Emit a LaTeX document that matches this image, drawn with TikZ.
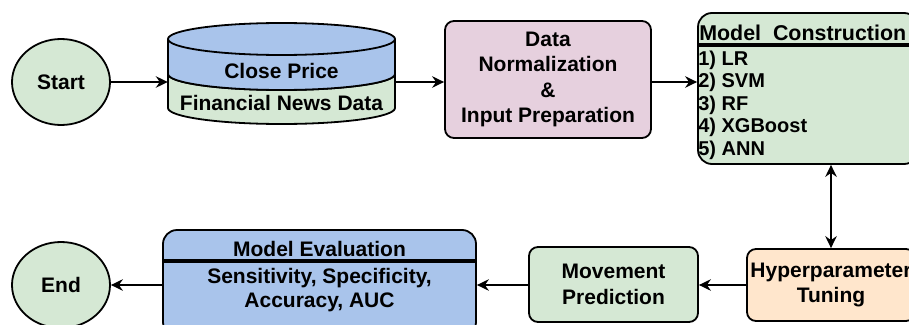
\documentclass[tikz,border=0pt]{standalone}
\usepackage{fontspec}
\setmainfont{Liberation Sans}
\usetikzlibrary{shapes.geometric,arrows.meta}
\definecolor{fillgreen}{HTML}{D5E8D4}
\definecolor{fillblue}{HTML}{A9C4EB}
\definecolor{fillpink}{HTML}{E6D0DE}
\definecolor{fillorange}{HTML}{FFE6CC}
\tikzset{
  outline/.style={draw=black, line width=1.8pt},
  bigfont/.style={font=\bfseries\fontsize{21}{25.5}\selectfont},
  listfont/.style={font=\bfseries\fontsize{20}{24}\selectfont},
  proc/.style={outline, bigfont, rounded corners=9pt, align=center, inner sep=0pt},
  panel/.style={outline, rounded corners=14pt, inner sep=0pt},
  term/.style={outline, bigfont, ellipse, inner sep=0pt, fill=fillgreen,
    minimum width=98pt, minimum height=86pt},
  txt/.style={bigfont, inner sep=0pt},
  item/.style={listfont, inner sep=0pt, anchor=base west},
  divider/.style={draw=black, line width=3.4pt},
  tip/.style={},
  flow/.style={line width=1.8pt, -{Stealth[length=12pt,width=11.5pt,inset=4pt]}},
  flowboth/.style={line width=1.8pt,
    {Stealth[length=12pt,width=11.5pt,inset=4pt]}-{Stealth[length=12pt,width=11.5pt,inset=4pt]}}
}
\begin{document}
\begin{tikzpicture}[x=1pt,y=-1pt]
\clip (0,0) rectangle (909,324);
\fill[white] (0,0) rectangle (909,324);

% start terminal
\node[term] (start) at (61,82) {Start};

% data store drawn as a two-layer cylinder
\path[fill=fillgreen, outline] (168,74) -- (168,108)
  arc[start angle=180, end angle=0, x radius=113.5, y radius=16] -- (395,74)
  arc[start angle=0, end angle=180, x radius=113.5, y radius=16] -- cycle;
\path[fill=fillblue, outline] (168,39) -- (168,74)
  arc[start angle=180, end angle=0, x radius=113.5, y radius=16] -- (395,39)
  arc[start angle=0, end angle=-180, x radius=113.5, y radius=16] -- cycle;
\draw[outline] (168,39) arc[start angle=180, end angle=0, x radius=113.5, y radius=16];
\node[inner sep=0pt, minimum width=227pt, minimum height=102pt] (store) at (281.5,73) {};
\node[txt, anchor=base] (price) at (281.5,78) {Close Price};
\node[txt, anchor=base] (news) at (281.5,110) {Financial News Data};

% preprocessing
\node[proc, fill=fillpink, minimum width=206pt, minimum height=117pt] (prep) at (548,79.5)
  {Data\\Normalization\\\&\\Input Preparation};

% model construction panel (runs past the right edge)
\node[panel, fill=fillgreen, minimum width=220pt, minimum height=151pt] (model) at (808,88.5) {};
\draw[divider] ([yshift=-33pt]model.north west) -- ([yshift=-33pt]model.north east);
\node[txt, anchor=base west, font=\bfseries\fontsize{21.4}{25}\selectfont] (mtitle)
  at ([shift={(2,28)}]model.north west) {Model\ \ Construction};
\node[item] (m1) at ([shift={(1,53)}]model.north west) {1) LR};
\node[item] (m2) at ([shift={(1,75.5)}]model.north west) {2) SVM};
\node[item] (m3) at ([shift={(1,98)}]model.north west) {3) RF};
\node[item] (m4) at ([shift={(1,120.5)}]model.north west) {4) XGBoost};
\node[item] (m5) at ([shift={(1,143)}]model.north west) {5) ANN};

% bottom row
\node[proc, fill=fillorange, minimum width=168pt, minimum height=72pt] (hyper) at (831,285)
  {Hyperparameter\\Tuning};
\node[proc, fill=fillgreen, minimum width=169pt, minimum height=75pt] (move) at (613.5,284.5)
  {Movement\\Prediction};
\node[panel, fill=fillblue, minimum width=313pt, minimum height=106pt] (eval) at (319.5,283) {};
\draw[divider] ([yshift=-32pt]eval.north west) -- ([yshift=-32pt]eval.north east);
\node[txt, anchor=base] (etitle) at ([yshift=-27pt]eval.north) {Model Evaluation};
\node[txt, anchor=base] (emetric1) at ([yshift=-54pt]eval.north) {Sensitivity, Specificity,};
\node[txt, anchor=base] (emetric2) at ([yshift=-78pt]eval.north) {Accuracy, AUC};
\node[term] (end) at (61,285) {End};

% connectors
\draw[flow] (start) -- (start -| store.west);
\draw[flow] (store.east |- start) -- (prep.west |- start);
\draw[flow] (prep.east |- start) -- (model.west |- start);
\draw[flowboth] (hyper.north |- model.south) -- (hyper.north);
\draw[flow] (hyper.west) -- (move.east |- hyper.west);
\draw[flow] (move.west |- hyper.west) -- (eval.east |- hyper.west);
\draw[flow] (eval.west |- hyper.west) -- (end);
\end{tikzpicture}
\end{document}
